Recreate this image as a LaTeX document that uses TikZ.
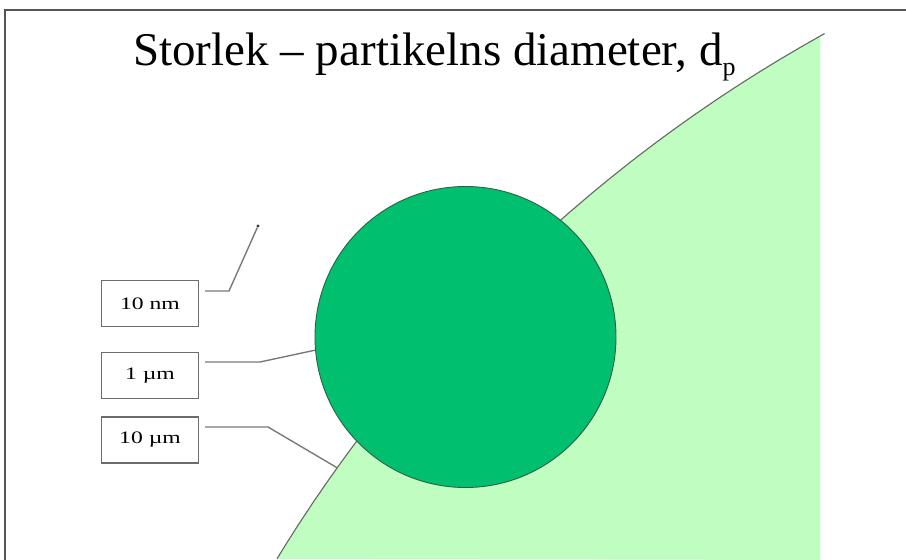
\documentclass[tikz,border=0pt]{standalone}
\usepackage{fontspec}
\setmainfont{Liberation Serif}
\definecolor{darkgr}{HTML}{00C070}
\definecolor{lightgr}{HTML}{C0FDC0}
\definecolor{circline}{HTML}{2F5F45}
\definecolor{frameg}{HTML}{555555}
\definecolor{conng}{HTML}{7A7A7A}
\tikzset{
  lblbox/.style={draw=gray!85!black, line width=1.3pt, fill=white, minimum width=97pt, minimum height=46pt, inner sep=0pt, font=\fontsize{17.5}{20}\selectfont},
  conn/.style={draw=conng, line width=1.4pt},
  curveline/.style={draw=gray!80!black, line width=1.1pt},
}
\begin{document}
\begin{tikzpicture}[x=1pt,y=-1pt]
\useasboundingbox (0,0) rectangle (906,560);
% frame (top and left)
\draw[frameg, line width=1.3pt] (5,560) -- (5,10) -- (906,10);
% light green region bounded by an arc
\fill[lightgr] plot[domain=119.0:148.6, samples=80] ({1544.7+1485.3*cos(\x)},{1332.6-1485.3*sin(\x)}) -- (820,560) -- (820,35) -- cycle;
\draw[curveline] plot[domain=119.0:148.6, samples=80] ({1544.7+1485.3*cos(\x)},{1332.6-1485.3*sin(\x)});
% title
\node[anchor=base west, inner sep=0pt, font=\fontsize{47}{56}\selectfont] (title) at (133,65) {Storlek -- partikelns diameter, d\raisebox{-10pt}{\fontsize{26}{26}\selectfont p}};
% particle
\node[circle, minimum size=301pt, inner sep=0pt, fill=darkgr, draw=circline, line width=0.9pt] (p) at (465.5,337) {};
% tiny particle
\node[circle, fill=black!80, inner sep=0pt, minimum size=3.2pt] (dot) at (258,226) {};
% label boxes
\node[lblbox] (b1) at (150,303.5) {\scalebox{1.35}[1]{10 nm}};
\node[lblbox] (b2) at (150,375.5) {\scalebox{1.35}[1]{1 µm}};
\node[lblbox] (b3) at (150,440) {\scalebox{1.35}[1]{10 µm}};
% bend points and curve point
\coordinate (k1) at (229,291);
\coordinate (k2) at (260,362);
\coordinate (k3) at (268,427);
\coordinate (c3) at (337.5,468);
% connectors
\draw[conn] ([xshift=6pt]b1.east |- k1) -- (k1) -- (dot);
\draw[conn] ([xshift=6pt]b2.east |- k2) -- (k2) -- (p.185);
\draw[conn] ([xshift=6pt]b3.east |- k3) -- (k3) -- (c3);
\end{tikzpicture}
\end{document}
